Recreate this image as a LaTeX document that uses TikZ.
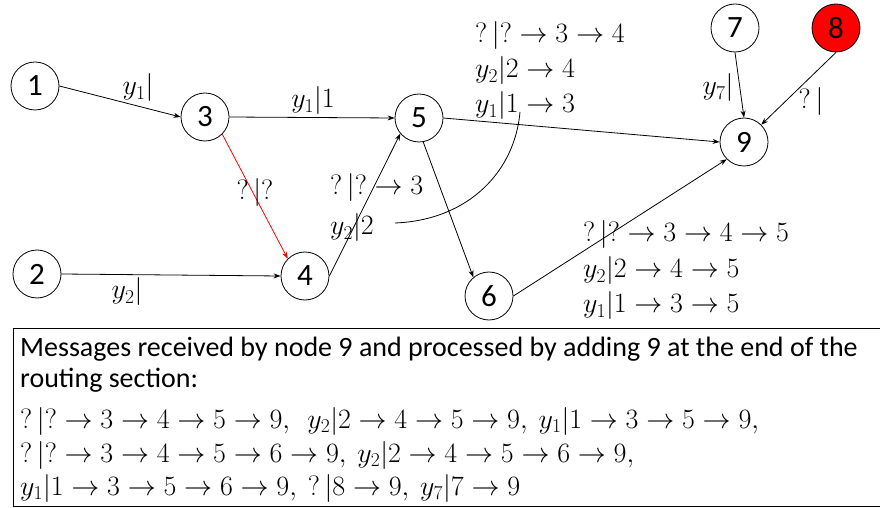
\RequirePackage{fix-cm}
\documentclass[tikz,border=0pt]{standalone}
\usepackage[no-math]{fontspec}
\setmainfont{Carlito}
\usetikzlibrary{arrows.meta}
\begin{document}
\begin{tikzpicture}[x=1bp,y=-1bp,
  vtx/.style={circle,draw,line width=0.8bp,minimum size=48bp,inner sep=0pt,font=\fontsize{31bp}{36bp}\selectfont},
  lbl/.style={inner sep=0pt,font=\fontsize{28bp}{34bp}\selectfont},
  blk/.style={lbl,anchor=base west},
  mline/.style={blk,text height=19bp,text depth=4bp},
  arr/.style={line width=0.8bp,-{Stealth[length=7bp,width=5bp]}},
]
\useasboundingbox (0,0) rectangle (880,508);
\fill[white] (0,0) rectangle (880,508);
% vertices
\node[vtx] (n1) at (35,86) {1};
\node[vtx] (n3) at (205,117) {3};
\node[vtx] (n5) at (419,118) {5};
\node[vtx] (n7) at (735,28) {7};
\node[vtx,fill=red] (n8) at (836,28) {8};
\node[vtx] (n9) at (744,142) {9};
\node[vtx] (n2) at (37,274) {2};
\node[vtx] (n4) at (305,276) {4};
\node[vtx] (n6) at (489,296) {6};
% edges
\draw[arr] (n1.east) -- (n3.west);
\draw[arr] (n3.east) -- (n5.west);
\draw[arr,red] (n3.-45) -- (n4.135);
\draw[arr] (n2.east) -- (n4.west);
\draw[arr] (n4.east) -- (n5.220);
\draw[arr] (n5.-80) -- (n6.130);
\draw[arr] (n5.east) -- (n9.west);
\draw[arr] (n6.east) -- (n9.-135);
\draw[arr] (n7.south) -- (n9.north);
\draw[arr] (n8.south) -- (n9.45);
% curve
\coordinate (cs) at (395,223);
\coordinate (ce) at (520,112);
\draw[line width=0.8bp] (cs) .. controls (470,220) and (515,170) .. (ce);
% edge labels
\node[lbl] (a13) at (138,88) {$y_1|$};
\node[lbl] (a35) at (313,101) {$y_1|1$};
\node[lbl] (a34) at (255,193) {$?\,|?$};
\node[lbl] (a24) at (127,292) {$y_2|$};
\node[blk] (a45a) at (330,195) {$?\,|?\rightarrow 3$};
\node[blk] (a45b) at (330,235) {$y_2|2$};
\node[mline] (t1) at (475,43) {$?\,|?\rightarrow 3\rightarrow 4$};
\node[mline] (t2) at (475,78) {$y_2|2\rightarrow 4$};
\node[mline] (t3) at (475,113) {$y_1|1\rightarrow 3$};
\node[lbl] (a79) at (718,88) {$y_7|$};
\node[lbl] (a89) at (811,102) {$?\,|$};
\node[mline] (b1) at (583,242) {$?\,|?\rightarrow 3\rightarrow 4\rightarrow 5$};
\node[mline] (b2) at (583,278) {$y_2|2\rightarrow 4\rightarrow 5$};
\node[mline] (b3) at (583,313) {$y_1|1\rightarrow 3\rightarrow 5$};
% box
\draw[line width=0.8bp] (13,328) rectangle (884,506);
\node[blk] (m1) at (20,356) {Messages received by node 9 and processed by adding 9 at the end of the};
\node[blk] (m2) at (20,387) {routing section:};
\node[mline] (m3) at (20,428) {$?\,|?\rightarrow 3\rightarrow 4\rightarrow 5\rightarrow 9,\ \ y_2|2\rightarrow 4\rightarrow 5\rightarrow 9,\ y_1|1\rightarrow 3\rightarrow 5\rightarrow 9,$};
\node[mline] (m4) at (20,462) {$?\,|?\rightarrow 3\rightarrow 4\rightarrow 5\rightarrow 6\rightarrow 9,\ y_2|2\rightarrow 4\rightarrow 5\rightarrow 6\rightarrow 9,$};
\node[mline] (m5) at (20,495) {$y_1|1\rightarrow 3\rightarrow 5\rightarrow 6\rightarrow 9,\ ?\,|8\rightarrow 9,\ y_7|7\rightarrow 9$};
\end{tikzpicture}
\end{document}
